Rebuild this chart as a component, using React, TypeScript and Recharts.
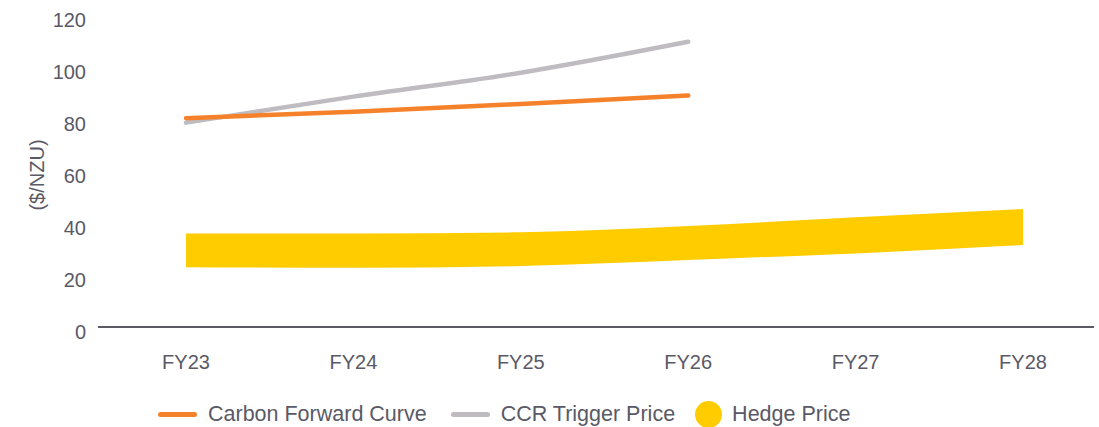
import {
  ComposedChart,
  Line,
  Area,
  XAxis,
  YAxis,
} from 'recharts';

const categories = ['FY23', 'FY24', 'FY25', 'FY26', 'FY27', 'FY28'];
const carbonForward = [80.3, 82.8, 85.8, 89.0, null, null];
const ccrTrigger = [78.6, 88.6, 97.8, 109.7, null, null];
const hedgeLow = [23.0, 22.8, 23.5, 25.8, 28.3, 31.5];
const hedgeHigh = [36.0, 36.0, 36.4, 38.8, 42.2, 45.4];
const yTicks = [0, 20, 40, 60, 80, 100, 120];

const ORANGE = '#F5822A';
const GREY = '#BEBCC1';
const YELLOW = '#FFCC00';
const TEXT = '#5A5966';
const FONT = '"Liberation Sans", Arial, sans-serif';

const data = categories.map((c, i) => ({
  name: c,
  carbon: carbonForward[i],
  ccr: ccrTrigger[i],
  hedge: [hedgeLow[i], hedgeHigh[i]],
}));

function YTick({ x, y, payload }: any) {
  return (
    <text x={x} y={y + 5} dy="0.355em" textAnchor="end" fill={TEXT} fontSize={20} fontFamily={FONT}>
      {payload.value}
    </text>
  );
}

function LegendItem({ kind, color, label, gap }: { kind: 'line' | 'dot'; color: string; label: string; gap: number }) {
  return (
    <div style={{ display: 'flex', alignItems: 'center', marginRight: gap }}>
      {kind === 'line' ? (
        <div style={{ width: 39, height: 5, borderRadius: 3, background: color, marginRight: 11 }} />
      ) : (
        <div style={{ width: 27, height: 27, borderRadius: '50%', background: color, marginRight: 10 }} />
      )}
      <span style={{ fontSize: 21.5, color: TEXT, fontFamily: FONT, whiteSpace: 'nowrap' }}>{label}</span>
    </div>
  );
}

export default function App() {
  return (
    <div style={{ position: 'absolute', left: 0, top: 0, width: 1099, height: 427, background: '#fff' }}>
      <ComposedChart width={1099} height={427} data={data} margin={{ top: 15, right: 5, left: 0, bottom: 70 }}>
        <XAxis
          dataKey="name"
          scale="point"
          padding={{ left: 88, right: 71 }}
          axisLine={{ stroke: '#5B5A64', strokeWidth: 2 }}
          tickLine={false}
          tickMargin={22}
          height={30}
          tick={{ fill: TEXT, fontSize: 20, fontFamily: FONT }}
        />
        <YAxis
          domain={[0, 120]}
          ticks={yTicks}
          width={98}
          axisLine={false}
          tickLine={false}
          tickMargin={6}
          tick={<YTick />}
        />
        <Area
          type="monotone"
          dataKey="hedge"
          stroke="none"
          fill={YELLOW}
          fillOpacity={1}
          isAnimationActive={false}
        />
        <Line
          type="monotone"
          dataKey="ccr"
          stroke={GREY}
          strokeWidth={4.5}
          strokeLinecap="round"
          dot={false}
          isAnimationActive={false}
        />
        <Line
          type="monotone"
          dataKey="carbon"
          stroke={ORANGE}
          strokeWidth={4.5}
          strokeLinecap="round"
          dot={false}
          isAnimationActive={false}
        />
      </ComposedChart>
      <div
        style={{
          position: 'absolute',
          left: 37,
          top: 175,
          transform: 'translate(-50%, -50%) rotate(-90deg)',
          fontSize: 20,
          color: TEXT,
          fontFamily: FONT,
          whiteSpace: 'nowrap',
        }}
      >
        ($/NZU)
      </div>
      <div style={{ position: 'absolute', left: 158, top: 400, height: 28, display: 'flex', alignItems: 'center' }}>
        <LegendItem kind="line" color={ORANGE} label="Carbon Forward Curve" gap={24} />
        <LegendItem kind="line" color={GREY} label="CCR Trigger Price" gap={20} />
        <LegendItem kind="dot" color={YELLOW} label="Hedge Price" gap={0} />
      </div>
    </div>
  );
}
